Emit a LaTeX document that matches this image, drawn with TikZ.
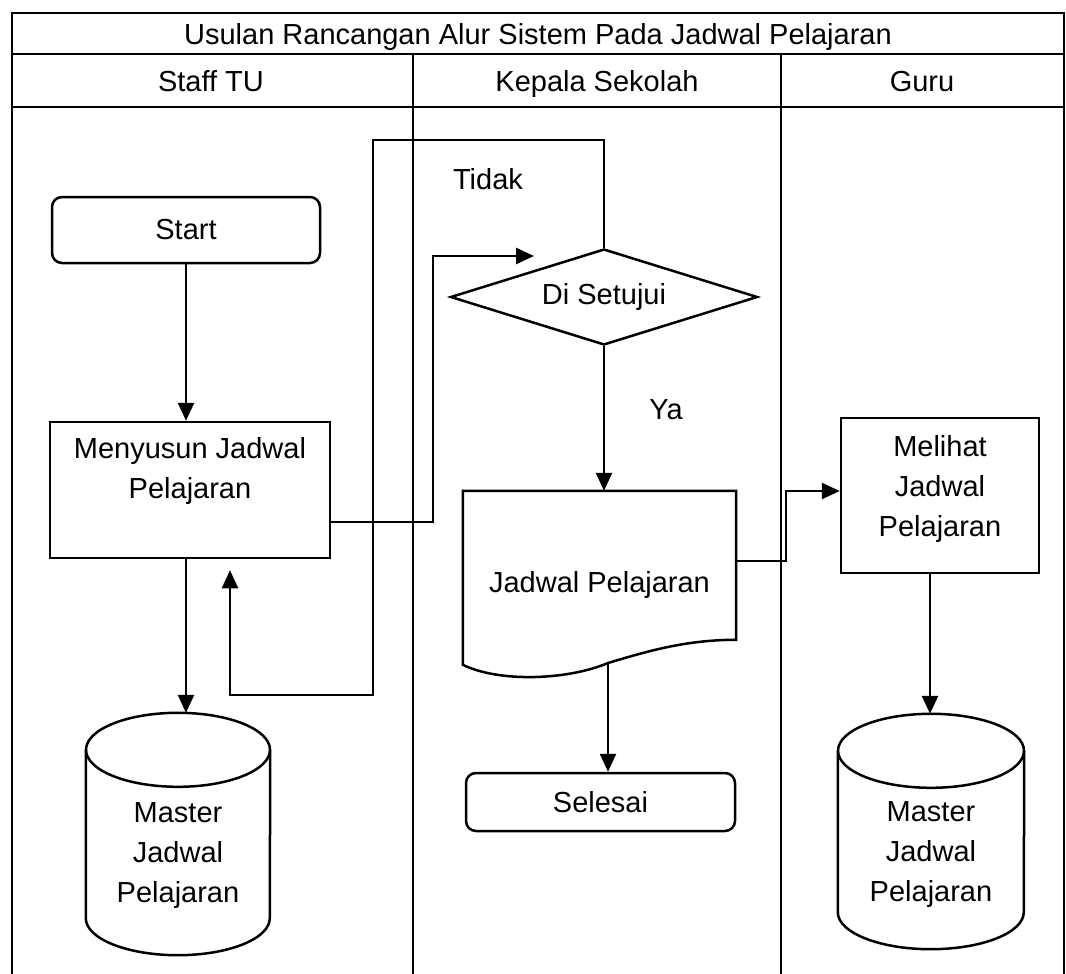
\documentclass[tikz,border=0pt]{standalone}
\usepackage{fontspec}
\setmainfont{Liberation Sans}
\usetikzlibrary{arrows.meta,positioning,calc,shapes.geometric}

\begin{document}
\begin{tikzpicture}[x=1pt,y=-1pt,font=\fontsize{29}{40}\selectfont,
        tabel/.style={line width=2.5pt},
        bentuk/.style={line width=2.5pt},
        terminal/.style={draw,bentuk,rounded corners=10pt,inner sep=0pt},
        proses/.style={draw,bentuk,inner sep=0pt},
        keputusan/.style={diamond,draw,bentuk,aspect=3.2,minimum width=307pt,minimum height=96pt,inner sep=0pt},
        wadah/.style={inner sep=0pt},
        teks/.style={inner sep=0pt,align=center},
        kepala/.style={inner sep=0pt,anchor=base},
        panah/.style={-{Triangle[length=18pt,width=16pt]},line width=2.5pt}]
        \useasboundingbox (0,0) rectangle (1066,974);
        \draw[tabel] (12,974) |- (1064,13) -- (1064,974);
        \draw[tabel] (12,54) -- (1064,54);
        \draw[tabel] (12,107) -- (1064,107);
        \draw[tabel] (413,54) -- (413,974);
        \draw[tabel] (781,54) -- (781,974);
        \node[kepala] (judul) at (538,45) {Usulan Rancangan Alur Sistem Pada Jadwal Pelajaran};
        \node[kepala] (staf) at (211,92) {Staff TU};
        \node[kepala] (kepsek) at (597,92) {Kepala Sekolah};
        \node[kepala] (guru) at (922,92) {Guru};
        \node[terminal,minimum width=268pt,minimum height=66pt] (start) at (186,230) {Start};
        \node[proses,minimum width=280pt,minimum height=136pt] (susun) at (190,490) {};
        \node[teks,below=17pt of susun.north] (susunT) {Menyusun Jadwal\\Pelajaran};
        \node[wadah,minimum width=184pt,minimum height=242pt] (db1) at (178,834) {};
        \node[teks,below=90pt of db1.north] (db1T) {Master\\Jadwal\\Pelajaran};
        \node[keputusan] (kep) at (604,297) {Di Setujui};
        \node[kepala] (tidak) at (488,189) {Tidak};
        \node[kepala] (ya) at (666,419) {Ya};
        \node[wadah,minimum width=273pt,minimum height=188pt] (dok) at (599.5,585) {Jadwal Pelajaran};
        \node[terminal,minimum width=269pt,minimum height=58pt] (selesai) at (600.5,802) {Selesai};
        \node[proses,minimum width=198pt,minimum height=155pt] (lihat) at (940,495.5) {};
        \node[teks,below=19pt of lihat.north] (lihatT) {Melihat\\Jadwal\\Pelajaran};
        \node[wadah,minimum width=186pt,minimum height=235pt] (db2) at (931,831.5) {};
        \node[teks,below=88pt of db2.north] (db2T) {Master\\Jadwal\\Pelajaran};
        \coordinate (dokB) at (608,663);
        \coordinate (dokR) at (736,561);
        \coordinate (tA) at (373,140);
        \coordinate (tB) at (373,695);
        \coordinate (mA) at (433,256);
        \coordinate (mB) at (534,256);
        \coordinate (jA) at (786,491);
        \draw[bentuk] (dok.north west) -- (dok.north east) -- ([yshift=-149pt]dok.north east)
            .. controls +(-50,0) and +(40,-12) .. (dokB)
            .. controls +(-40,17) and +(37,18) .. ([yshift=-174pt]dok.north west) -- cycle;
        \foreach \db/\rx in {db1/92,db2/93}{
          \draw[bentuk] ($(\db.north west)+(0,37)$) -- ($(\db.south west)+(0,-37)$)
            arc[start angle=180,end angle=360,x radius=\rx pt,y radius=37pt] -- ($(\db.north east)+(0,37)$);
          \draw[bentuk] ($(\db.north)+(0,37)$) ellipse[x radius=\rx pt,y radius=37pt];
        }
        \draw[panah] (start.south) -- (start.south |- susun.north);
        \draw[panah] ([xshift=-4pt]susun.south) -- ([xshift=-4pt]susun.south |- db1.north);
        \draw[panah] (kep.north) |- (tA) -- (tB) -| ([xshift=40pt,yshift=-11pt]susun.south);
        \draw[panah] ([yshift=-32pt]susun.east) -| (mA) -- (mB);
        \draw[panah] (kep.south) -- (kep.south |- dok.north);
        \draw[panah] (dokB) -- (dokB |- selesai.north);
        \draw[panah] (dokR) -| (jA) -- (jA -| lihat.west);
        \draw[panah] ([xshift=-10pt]lihat.south) -- ([xshift=-10pt]lihat.south |- db2.north);
      \end{tikzpicture}
\end{document}
